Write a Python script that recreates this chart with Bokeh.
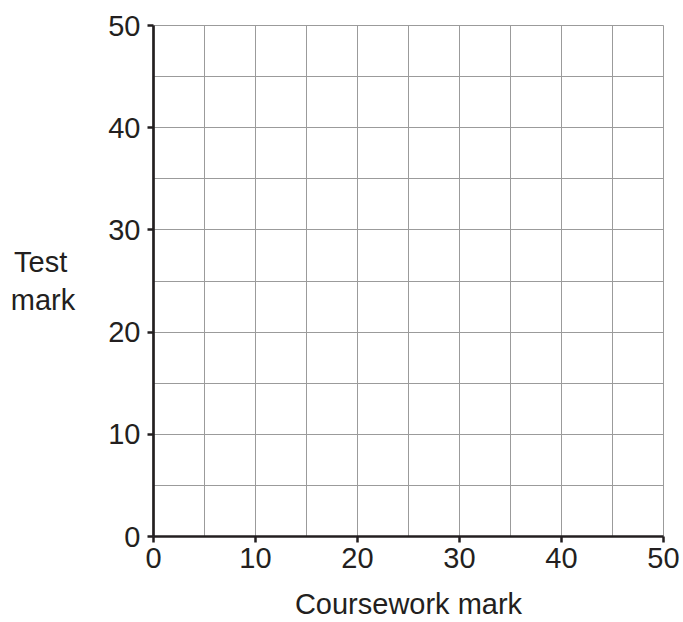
from bokeh.plotting import figure
from bokeh.models import Range1d, FixedTicker
from bokeh.embed import file_html
from bokeh.resources import INLINE

# Data / axis definitions
x_range_vals = [0, 50]
y_range_vals = [0, 50]
major_ticks = [0, 10, 20, 30, 40, 50]
grid_ticks = [0, 5, 10, 15, 20, 25, 30, 35, 40, 45, 50]
x_title = "Coursework mark"
y_title = "Test \nmark"

INK = "#231f20"
GRID = "#9b9b9b"
FONT = "Liberation Sans"
FS = "29px"

p = figure(width=683, height=622, output_backend="svg", toolbar_location=None,
           x_range=Range1d(*x_range_vals), y_range=Range1d(*y_range_vals),
           min_border_left=153, min_border_right=20, min_border_top=25, min_border_bottom=85)

p.background_fill_color = "white"
p.border_fill_color = "white"
p.outline_line_color = GRID
p.outline_line_width = 1

for g in (p.xgrid, p.ygrid):
    g.ticker = FixedTicker(ticks=grid_ticks)
    g.grid_line_color = GRID
    g.grid_line_width = 1

for ax in (p.xaxis, p.yaxis):
    ax.ticker = FixedTicker(ticks=major_ticks)
    ax.axis_line_color = INK
    ax.axis_line_width = 2.7
    ax.major_tick_line_color = INK
    ax.major_tick_line_width = 2.5
    ax.major_tick_out = 6
    ax.major_tick_in = 0
    ax.minor_tick_line_color = None
    ax.major_label_text_font = FONT
    ax.major_label_text_font_size = FS
    ax.major_label_text_color = INK
    ax.axis_label_text_font = FONT
    ax.axis_label_text_font_size = FS
    ax.axis_label_text_font_style = "normal"
    ax.axis_label_text_color = INK

p.xaxis.major_label_standoff = 5
p.yaxis.major_label_standoff = 7

p.xaxis.axis_label = x_title
p.xaxis.axis_label_standoff = 17

p.yaxis.axis_label = y_title
p.yaxis.axis_label_standoff = 30
p.yaxis.axis_label_orientation = "horizontal"

open("out.html", "w").write(file_html(p, INLINE))
